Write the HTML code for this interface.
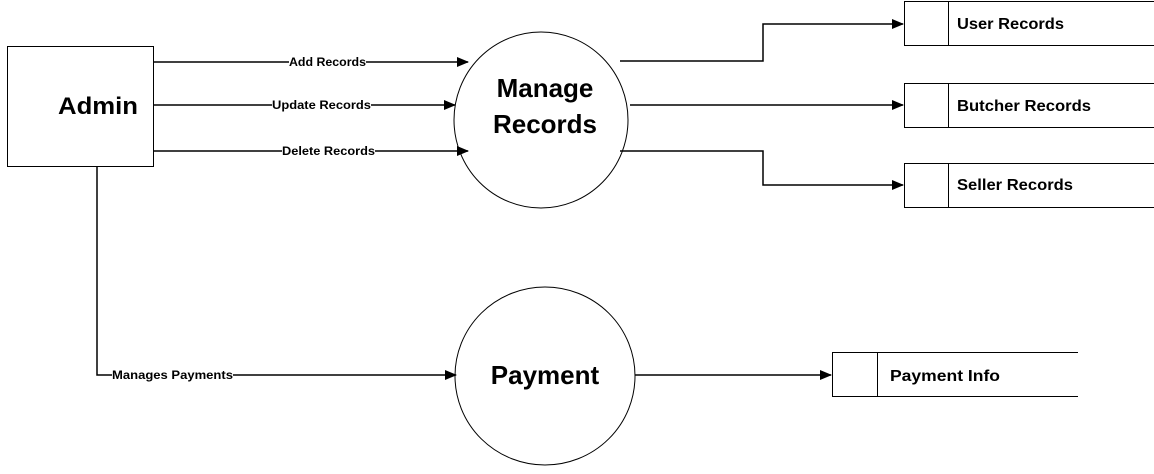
<!DOCTYPE html>
<html><head><meta charset="utf-8"><style>
html,body{margin:0;padding:0;background:#fff;width:1154px;height:474px;overflow:hidden}
</style></head><body>
<svg width="1154" height="474" viewBox="0 0 1154 474" xmlns="http://www.w3.org/2000/svg" font-family="Liberation Sans, sans-serif">
<defs><marker id="a" markerWidth="12" markerHeight="10" refX="11" refY="5" orient="auto" markerUnits="userSpaceOnUse"><path d="M0,0 L12,5 L0,10 z" fill="#000"/></marker></defs>
<g fill="none" stroke="#000" stroke-width="1.5">
<rect x="7.5" y="46.5" width="146" height="120" stroke-width="1"/>
<ellipse cx="541" cy="120" rx="87" ry="88" stroke-width="1"/>
<ellipse cx="545" cy="376" rx="90" ry="89" stroke-width="1"/>
<line x1="153" y1="62" x2="468" y2="62" marker-end="url(#a)"/>
<line x1="153" y1="105" x2="455" y2="105" marker-end="url(#a)"/>
<line x1="153" y1="151" x2="468" y2="151" marker-end="url(#a)"/>
<polyline points="620,61 763,61 763,24 903,24" marker-end="url(#a)"/>
<line x1="630" y1="105" x2="903" y2="105" marker-end="url(#a)"/>
<polyline points="620,151 763,151 763,185 903,185" marker-end="url(#a)"/>
<polyline points="97,166 97,375 456,375" marker-end="url(#a)"/>
<line x1="635" y1="375" x2="831" y2="375" marker-end="url(#a)"/>
</g>
<g fill="none" stroke="#000" stroke-width="1">
<path d="M1154,1.5 H904.5 V45.5 H1154 M948.5,1.5 V45.5"/>
<path d="M1154,83.5 H904.5 V127.5 H1154 M948.5,83.5 V127.5"/>
<path d="M1154,163.5 H904.5 V207.5 H1154 M948.5,163.5 V207.5"/>
<path d="M1078,352.5 H832.5 V396.5 H1078 M877.5,352.5 V396.5"/>
</g>
<g font-size="12" font-weight="bold">
<rect x="289" y="55" width="77" height="13" fill="#fff"/><text x="289" y="66" textLength="77" lengthAdjust="spacingAndGlyphs">Add Records</text>
<rect x="272" y="98" width="99" height="13" fill="#fff"/><text x="272" y="109" textLength="99" lengthAdjust="spacingAndGlyphs">Update Records</text>
<rect x="282" y="144" width="93" height="13" fill="#fff"/><text x="282" y="155" textLength="93" lengthAdjust="spacingAndGlyphs">Delete Records</text>
<rect x="112" y="368" width="121" height="13" fill="#fff"/><text x="112" y="379" textLength="121" lengthAdjust="spacingAndGlyphs">Manages Payments</text>
</g>
<g font-weight="bold" fill="#000">
<text x="58" y="114" font-size="24" textLength="80" lengthAdjust="spacingAndGlyphs">Admin</text>
<text x="545" y="97" font-size="26" text-anchor="middle">Manage</text>
<text x="545" y="133" font-size="26" text-anchor="middle">Records</text>
<text x="545" y="384" font-size="26" text-anchor="middle">Payment</text>
<text x="957" y="29" font-size="16" textLength="107" lengthAdjust="spacingAndGlyphs">User Records</text>
<text x="957" y="111" font-size="16" textLength="134" lengthAdjust="spacingAndGlyphs">Butcher Records</text>
<text x="957" y="190" font-size="16" textLength="116" lengthAdjust="spacingAndGlyphs">Seller Records</text>
<text x="890" y="381" font-size="16" textLength="110" lengthAdjust="spacingAndGlyphs">Payment Info</text>
</g>
</svg>
</body></html>
